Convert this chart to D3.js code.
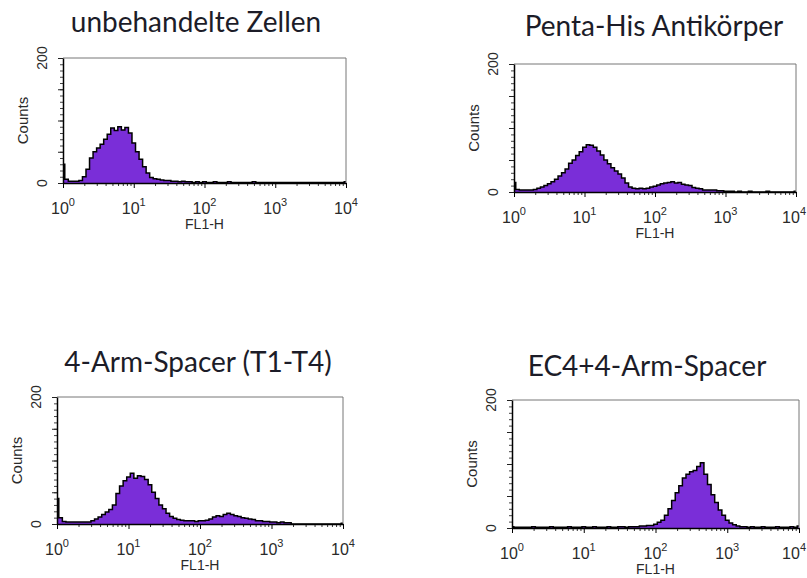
<!DOCTYPE html>
<html><head><meta charset="utf-8">
<script src="https://cdn.jsdelivr.net/npm/d3@7"></script>
<style>
body { margin: 0; background: #fff; }
svg { display: block; }
</style>
</head>
<body>
<svg width="807" height="578"></svg>
<script>
// channel bins are log spaced: bin i sits at 10^(i*binStep)
const binStep = 0.05;

const titles = ["unbehandelte Zellen", "Penta-His Antikörper", "4-Arm-Spacer (T1-T4)", "EC4+4-Arm-Spacer"];

const countsUntreated = [30, 6, 3, 3, 3, 4, 10, 22, 40, 50,
  56, 62, 70, 78, 88, 84, 90, 85, 89, 80,
  64, 50, 38, 26, 16, 9, 7, 6, 5, 4,
  4, 3, 3, 2, 3, 2, 2, 1, 2, 1,
  2, 1, 1, 2, 1, 1, 1, 2, 1, 1,
  1, 1, 1, 1, 2, 1, 1, 1, 1, 1,
  1, 1, 1, 1, 1, 1, 1, 1, 1, 1,
  1, 1, 1, 1, 1, 1, 1, 1, 1, 1, 2];

const countsPentaHis = [15, 4, 3, 3, 3, 3, 4, 6, 8, 10,
  13, 16, 20, 25, 30, 36, 45, 50, 57, 63,
  70, 74, 73, 70, 64, 58, 50, 44, 38, 33,
  28, 22, 14, 8, 6, 5, 6, 5, 6, 8,
  9, 11, 13, 14, 15, 16, 14, 15, 12, 11,
  10, 7, 6, 5, 3, 3, 3, 3, 2, 2,
  1, 1, 1, 0, 1, 0, 0, 1, 0, 0,
  0, 0, 1, 0, 0, 0, 0, 0, 0, 0, 1];

const countsFourArm = [40, 10, 4, 3, 3, 3, 3, 3, 3, 3,
  5, 8, 11, 15, 19, 23, 30, 48, 60, 68,
  74, 80, 72, 76, 75, 70, 62, 50, 40, 30,
  24, 17, 12, 9, 7, 6, 5, 5, 5, 4,
  5, 5, 6, 8, 11, 13, 12, 15, 17, 15,
  13, 12, 10, 9, 8, 7, 5, 5, 4, 4,
  3, 3, 2, 3, 2, 2, 0, 0, 0, 0,
  0, 0, 0, 0, 0, 0, 0, 0, 0, 0, 1];

const countsEC4 = [2, 1, 1, 1, 1, 1, 2, 1, 1, 1,
  1, 2, 1, 1, 1, 1, 2, 1, 1, 1,
  2, 1, 1, 2, 1, 1, 1, 2, 1, 1,
  2, 2, 1, 2, 2, 2, 3, 3, 4, 4,
  6, 9, 12, 20, 30, 43, 55, 66, 78, 84,
  88, 90, 96, 102, 84, 68, 52, 40, 28, 20,
  12, 8, 5, 3, 2, 2, 1, 2, 1, 1,
  2, 1, 1, 1, 2, 1, 1, 1, 2, 1, 3];

const allCounts = [countsUntreated, countsPentaHis, countsFourArm, countsEC4];

const yLabels = [0, 200];
const xDecades = [0, 1, 2, 3, 4];

const purple = "#7a2ed8";
const labelFont = "'Liberation Sans', Arial, sans-serif";

// plot boxes for the four panels
const boxes = [
  { x0: 63, x1: 346, y0: 58, y1: 183, tx: 196, ty: 32 },
  { x0: 514, x1: 796, y0: 64, y1: 192, tx: 654, ty: 36 },
  { x0: 57, x1: 343, y0: 397, y1: 524, tx: 198, ty: 372 },
  { x0: 512, x1: 799, y0: 400, y1: 528, tx: 647, ty: 376 }
];

const svg = d3.select("svg");

boxes.forEach((b, k) => {
  const g = svg.append("g");
  const counts = allCounts[k];

  const x = d3.scaleLog().domain([1, 1e4]).range([b.x0, b.x1]);
  const y = d3.scaleLinear().domain([0, 200]).range([b.y1, b.y0]);

  const pts = counts.map((c, i) => ({ v: Math.pow(10, i * binStep), c: c }));

  const area = d3.area()
    .x(d => x(d.v))
    .y0(y(0))
    .y1(d => y(d.c))
    .curve(d3.curveStep);
  const line = d3.line()
    .x(d => x(d.v))
    .y(d => y(d.c))
    .curve(d3.curveStep);

  g.append("path").datum(pts)
    .attr("d", area)
    .attr("fill", purple);
  g.append("path").datum(pts)
    .attr("d", line)
    .attr("fill", "none")
    .attr("stroke", "#000")
    .attr("stroke-width", 1.5);

  // frame: top and right lighter
  g.append("path")
    .attr("d", "M" + b.x0 + "," + b.y0 + "H" + b.x1 + "V" + b.y1)
    .attr("fill", "none")
    .attr("stroke", "#777")
    .attr("stroke-width", 1);

  // x axis minor + major ticks
  let minor = [];
  for (let d = 0; d < 4; d++) {
    for (let m = 2; m <= 9; m++) minor.push(m * Math.pow(10, d));
  }
  g.append("g")
    .attr("transform", "translate(0," + b.y1 + ")")
    .call(d3.axisBottom(x).tickValues(minor).tickSize(3).tickFormat(""))
    .call(a => a.select(".domain").remove())
    .call(a => a.selectAll("line").attr("stroke", "#333"));
  g.append("g")
    .attr("transform", "translate(0," + b.y1 + ")")
    .call(d3.axisBottom(x).tickValues(xDecades.map(d => Math.pow(10, d))).tickSize(5).tickSizeOuter(0).tickFormat(""))
    .call(a => a.select(".domain").attr("stroke", "#000").attr("stroke-width", 1.5))
    .call(a => a.selectAll("line").attr("stroke", "#000"));

  // y axis ticks
  g.append("g")
    .attr("transform", "translate(" + b.x0 + ",0)")
    .call(d3.axisLeft(y).tickValues(d3.range(0, 201, 10)).tickSize(3).tickFormat(""))
    .call(a => a.select(".domain").remove())
    .call(a => a.selectAll("line").attr("stroke", "#444"));
  g.append("g")
    .attr("transform", "translate(" + b.x0 + ",0)")
    .call(d3.axisLeft(y).tickValues(d3.range(0, 201, 50)).tickSize(5).tickSizeOuter(0).tickFormat(""))
    .call(a => a.select(".domain").attr("stroke", "#000").attr("stroke-width", 1.5))
    .call(a => a.selectAll("line").attr("stroke", "#222"));

  // x tick labels 10^n, kept inside the page on the right
  xDecades.forEach(d => {
    const t = g.append("text")
      .attr("x", x(Math.pow(10, d)))
      .attr("y", b.y1 + 31)
      .attr("text-anchor", "middle")
      .style("font-family", labelFont)
      .style("font-size", "16px")
      .attr("fill", "#2a2a2a");
    t.append("tspan").text("10");
    t.append("tspan").attr("dy", -8).style("font-size", "11px").text(d);
    const bb = t.node().getBBox();
    if (bb.x + bb.width > 806) t.attr("x", +t.attr("x") - (bb.x + bb.width - 806));
  });

  g.append("text")
    .attr("x", (b.x0 + b.x1) / 2)
    .attr("y", b.y1 + 46)
    .attr("text-anchor", "middle")
    .style("font-family", labelFont)
    .style("font-size", "14px")
    .attr("fill", "#2a2a2a")
    .text("FL1-H");

  // y tick labels, rotated
  yLabels.forEach(v => {
    g.append("text")
      .attr("transform", "translate(" + (b.x0 - 16) + "," + y(v) + ") rotate(-90)")
      .attr("text-anchor", "middle")
      .style("font-family", labelFont)
      .style("font-size", "14px")
      .attr("fill", "#2a2a2a")
      .text(v);
  });

  g.append("text")
    .attr("transform", "translate(" + (b.x0 - 35) + "," + ((b.y0 + b.y1) / 2) + ") rotate(-90)")
    .attr("text-anchor", "middle")
    .style("font-family", labelFont)
    .style("font-size", "15px")
    .attr("fill", "#2a2a2a")
    .text("Counts");

  g.append("text")
    .attr("x", b.tx)
    .attr("y", b.ty)
    .attr("text-anchor", "middle")
    .style("font-family", "Lato, 'Open Sans', sans-serif")
    .style("font-size", "28px")
    .attr("fill", "#1c1c28")
    .text(titles[k]);
});
</script>
</body></html>
